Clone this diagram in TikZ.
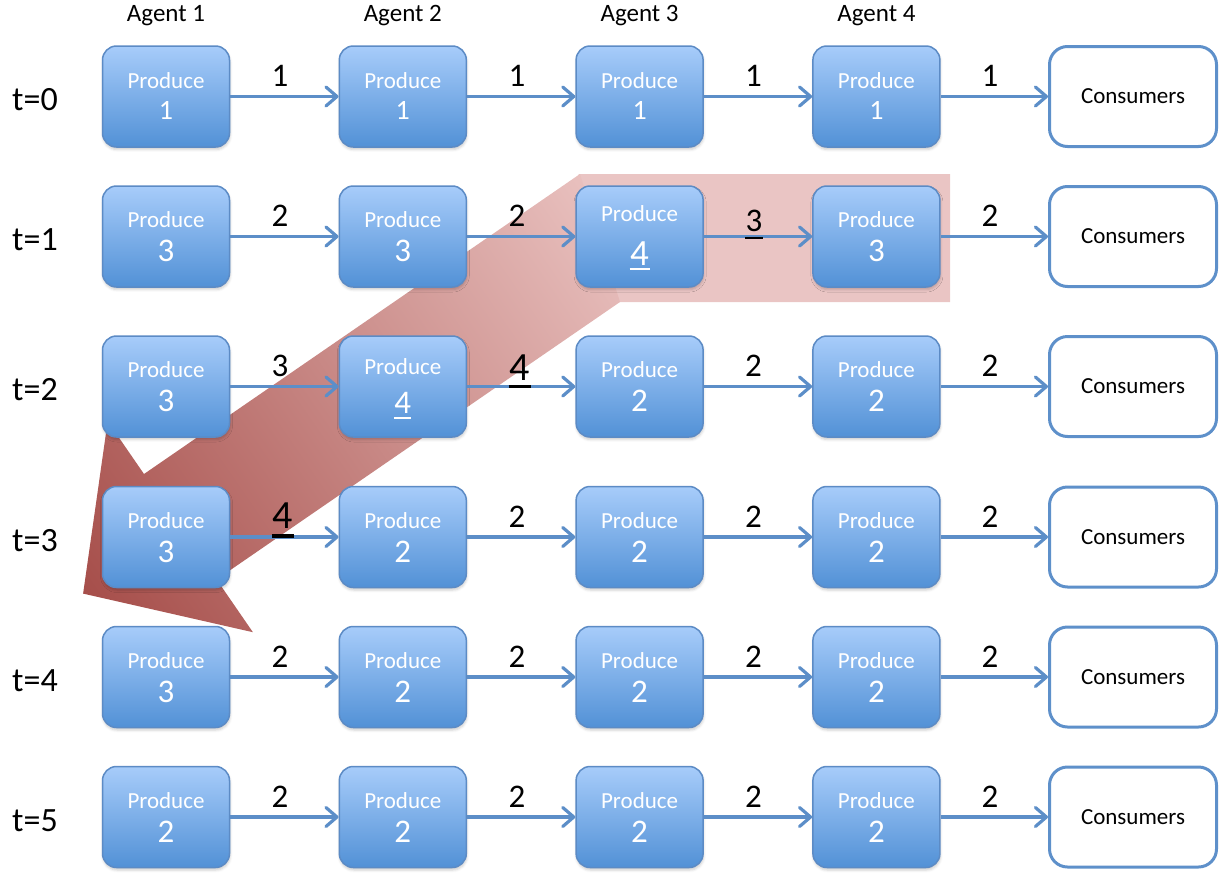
\documentclass[tikz,border=0pt]{standalone}
\usepackage{fontspec}
\setmainfont{Carlito}
\usetikzlibrary{arrows.meta,shadows.blur}
\definecolor{nodetop}{RGB}{167,204,250}
\definecolor{nodebot}{RGB}{82,145,214}
\definecolor{nodeline}{RGB}{92,139,197}
\definecolor{conn}{RGB}{92,142,200}
\definecolor{consline}{RGB}{94,144,202}
\definecolor{reddark}{RGB}{166,78,74}
\definecolor{redpale}{RGB}{233,193,191}
\definecolor{redrect}{RGB}{234,197,196}
\begin{document}
\begin{tikzpicture}[x=1pt,y=-1pt,
  agentbox/.style={rectangle, rounded corners=14pt, minimum width=127pt, minimum height=101pt,
    inner sep=0pt, draw=nodeline, line width=1.5pt, top color=nodetop, bottom color=nodebot,
    blur shadow={shadow xshift=0.5pt, shadow yshift=-2.5pt, shadow blur radius=2.5pt, shadow opacity=20}},
  consbox/.style={rectangle, rounded corners=18pt, minimum width=167pt, minimum height=100pt,
    inner sep=0pt, draw=consline, line width=3pt, fill=white, font=\fontsize{23}{26}\selectfont},
  flow/.style={draw=conn, line width=3.2pt, -{Straight Barb[length=11pt,width=19pt,round]}},
  prodtxt/.style={anchor=base, inner sep=0pt, text=white, font=\fontsize{23}{26}\selectfont},
  digtxt/.style={anchor=base, inner sep=0pt, text=white, font=\fontsize{33}{38}\selectfont},
  smalldig/.style={anchor=base, inner sep=0pt, text=white, font=\fontsize{28}{32}\selectfont},
  flowlbl/.style={anchor=base, inner sep=0pt, font=\fontsize{33}{38}\selectfont},
  biglbl/.style={anchor=base, inner sep=0pt, font=\fontsize{40}{46}\selectfont},
  rowlbl/.style={anchor=base west, inner sep=0pt, font=\fontsize{34}{40}\selectfont},
  hdr/.style={anchor=base, inner sep=0pt, font=\fontsize{25}{30}\selectfont}]
\useasboundingbox (0,0) rectangle (1221,873);
% big bent arrow (background)
\fill[redrect] (578.5,174) -- (950,174) -- (950,302) -- (618.5,302) -- cycle;
\begin{scope}
  \clip (580,174) -- (620,302) -- (216.6,579.5) -- (252.9,632.2) -- (83.1,593.6)
        -- (107.7,421.3) -- (144,474) -- cycle;
  \begin{scope}[transform canvas={shift={(83.1pt,-593.6pt)}, rotate=34.53}]
    \shade[left color=reddark, right color=redpale] (0pt,-220pt) rectangle (652pt,220pt);
  \end{scope}
\end{scope}
% headers
\foreach \c in {1,...,4}{
  \node[hdr] (h\c) at ({166+236.8*(\c-1)},21) {Agent \c};
}
% rows: boxes, consumers, connectors, row labels
\foreach \r/\yc in {0/96.5,1/236.5,2/386.5,3/537,4/677,5/817}{
  \foreach \c in {1,...,4}{
    \node[agentbox] (a\r\c) at ({166+236.8*(\c-1)},\yc) {};
  }
  \node[consbox] (k\r) at (1133,\yc) {Consumers};
  \draw[flow] (a\r1.east) -- (a\r2.west);
  \draw[flow] (a\r2.east) -- (a\r3.west);
  \draw[flow] (a\r3.east) -- (a\r4.west);
  \draw[flow] (a\r4.east) -- (k\r.west);
  \node[rowlbl] (t\r) at (12,\yc+14) {t=\r};
}
% node texts
\foreach \c in {1,...,4}{
  \node[prodtxt] (p0\c) at ([yshift=8pt]a0\c.center) {Produce};
  \node[smalldig] (d0\c) at ([yshift=-23pt]a0\c.center) {1};
}
\foreach \r/\c/\d in {1/1/3,1/2/3,1/4/3, 2/1/3,2/3/2,2/4/2, 3/1/3,3/2/2,3/3/2,3/4/2,
                      4/1/3,4/2/2,4/3/2,4/4/2, 5/1/2,5/2/2,5/3/2,5/4/2}{
  \node[prodtxt] (p\r\c) at ([yshift=9pt]a\r\c.center) {Produce};
  \node[digtxt] (d\r\c) at ([yshift=-25pt]a\r\c.center) {\d};
}
% emphasized node texts
\node[prodtxt] (p13) at ([yshift=15pt]a13.center) {Produce};
\node[anchor=base, inner sep=0pt, text=white, font=\fontsize{37}{42}\selectfont] (d13) at ([yshift=-28.5pt]a13.center) {4};
\draw[white, line width=2pt] ([xshift=-0.5pt,yshift=-3.5pt]d13.base west) -- ([xshift=0.5pt,yshift=-3.5pt]d13.base east);
\node[prodtxt] (p22) at ([yshift=12pt]a22.center) {Produce};
\node[digtxt] (d22) at ([yshift=-27pt]a22.center) {4};
\draw[white, line width=2pt] ([yshift=-4.5pt]d22.base west) -- ([yshift=-4.5pt]d22.base east);
% connector labels
\foreach \x/\l in {280/1,517/1,753.5/1,990/1}{
  \node[flowlbl] (l0\x) at (\x,86.5) {\l};
}
\foreach \r/\yc/\x/\l in {1/236.5/280/2, 1/236.5/517/2, 1/236.5/990/2,
    2/386.5/280/3, 2/386.5/753.5/2, 2/386.5/990/2,
    3/537/517/2, 3/537/753.5/2, 3/537/990/2,
    4/677/280/2, 4/677/517/2, 4/677/753.5/2, 4/677/990/2,
    5/817/280/2, 5/817/517/2, 5/817/753.5/2, 5/817/990/2}{
  \node[flowlbl] (l\r\x) at (\x,\yc-10) {\l};
}
% emphasized connector labels
\node[flowlbl] (e13) at (754,231.5) {3};
\draw[black, line width=2pt] ([yshift=-6pt]e13.base west) -- ([yshift=-6pt]e13.base east);
\node[biglbl] (e22) at (520,380) {4};
\draw[black, line width=3.5pt] ([xshift=-1pt,yshift=-6.5pt]e22.base west) -- ([xshift=1pt,yshift=-6.5pt]e22.base east);
\node[biglbl] (e31) at (283,528.5) {4};
\draw[black, line width=3.5pt] ([xshift=-1pt,yshift=-7.5pt]e31.base west) -- ([xshift=1pt,yshift=-7.5pt]e31.base east);
\end{tikzpicture}
\end{document}
